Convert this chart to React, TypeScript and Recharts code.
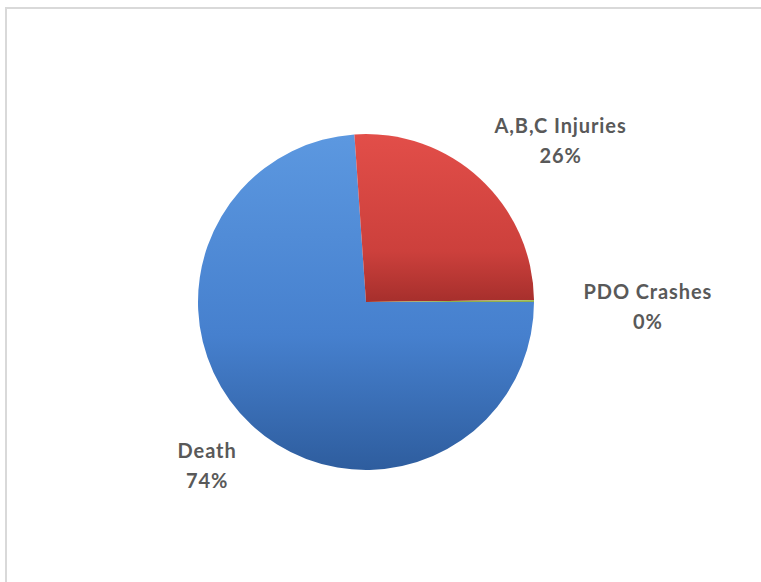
import React from "react";
import { PieChart, Pie, Cell } from "recharts";

const categories = ["Death", "A,B,C Injuries", "PDO Crashes"];
const values = [73.9, 25.9, 0.2];
const gradientIds = ["gBlue", "gRed", "gGreen"];

const data = categories.map((name, i) => ({ name, value: values[i] }));
const total = values.reduce((a, b) => a + b, 0);

const RAD = Math.PI / 180;
const FONT_SIZE = 20;
const LETTER_SPACING = 0.9;
const LINE_GAP = 30;
const CAP = 14;
const FONT_FAMILY = "Lato";

let measureCtx: CanvasRenderingContext2D | null = null;
const measure = (s: string) => {
  if (typeof document === "undefined") return s.length * 9;
  if (!measureCtx) measureCtx = document.createElement("canvas").getContext("2d");
  if (!measureCtx) return s.length * 9;
  measureCtx.font = `700 ${FONT_SIZE}px ${FONT_FAMILY}`;
  return measureCtx.measureText(s).width + LETTER_SPACING * (s.length - 1);
};

const clamp = (v: number) => Math.max(-1, Math.min(1, v));

const renderLabel = (props: any) => {
  const { cx, cy, midAngle, outerRadius, index } = props;
  const cos = Math.cos(midAngle * RAD);
  const sinUp = Math.sin(midAngle * RAD);
  const dist = outerRadius + 18 + 30 * Math.pow(Math.abs(cos), 8);
  const px = cx + dist * cos;
  const py = cy - dist * sinUp;
  const pct = Math.round((values[index] / total) * 100);
  const l1 = categories[index];
  const l2 = `${pct}%`;
  const w = Math.max(measure(l1), measure(l2)) + 4;
  const h = CAP + LINE_GAP + 6;
  const bx = px + (w / 2) * clamp(cos * 3);
  const by = py - (h / 2) * clamp(sinUp * 3) + 5 * Math.pow(Math.abs(cos), 8);
  const top = by - h / 2;
  const base1 = top + 5 + CAP;
  return (
    <text
      x={bx}
      y={base1}
      textAnchor="middle"
      fill="#595959"
      fontFamily={FONT_FAMILY}
      fontWeight={700}
      fontSize={FONT_SIZE}
      letterSpacing={LETTER_SPACING}
    >
      <tspan x={bx} y={base1}>{l1}</tspan>
      <tspan x={bx} y={base1 + LINE_GAP}>{l2}</tspan>
    </text>
  );
};

export default function App() {
  return (
    <div
      style={{
        position: "fixed",
        left: 0,
        top: 0,
        right: 0,
        bottom: 0,
        overflow: "hidden",
        background: "#fff",
      }}
    >
      <div
        style={{
          position: "absolute",
          left: 5,
          top: 7,
          right: -20,
          bottom: -20,
          border: "2px solid #D9D9D9",
        }}
      />
      <div style={{ position: "absolute", left: 0, top: 0 }}>
        <PieChart width={761} height={582} margin={{ top: 0, right: 0, bottom: 0, left: 0 }}>
          <defs>
            <linearGradient id="gBlue" x1="0" y1="0" x2="0" y2="1">
              <stop offset="0%" stopColor="#5C98E0" />
              <stop offset="60%" stopColor="#4680CE" />
              <stop offset="100%" stopColor="#2E5D9E" />
            </linearGradient>
            <linearGradient id="gRed" x1="0" y1="0" x2="0" y2="1">
              <stop offset="0%" stopColor="#E24E49" />
              <stop offset="70%" stopColor="#CC403C" />
              <stop offset="100%" stopColor="#A62F2C" />
            </linearGradient>
            <linearGradient id="gGreen" x1="0" y1="0" x2="0" y2="1">
              <stop offset="0%" stopColor="#A9C964" />
              <stop offset="100%" stopColor="#88A84A" />
            </linearGradient>
          </defs>
          <Pie
            data={data}
            dataKey="value"
            nameKey="name"
            cx={366}
            cy={302}
            outerRadius={168}
            startAngle={0}
            endAngle={-360}
            stroke="none"
            label={renderLabel}
            labelLine={false}
            isAnimationActive={false}
          >
            {data.map((d, i) => (
              <Cell key={d.name} fill={`url(#${gradientIds[i]})`} />
            ))}
          </Pie>
        </PieChart>
      </div>
    </div>
  );
}
